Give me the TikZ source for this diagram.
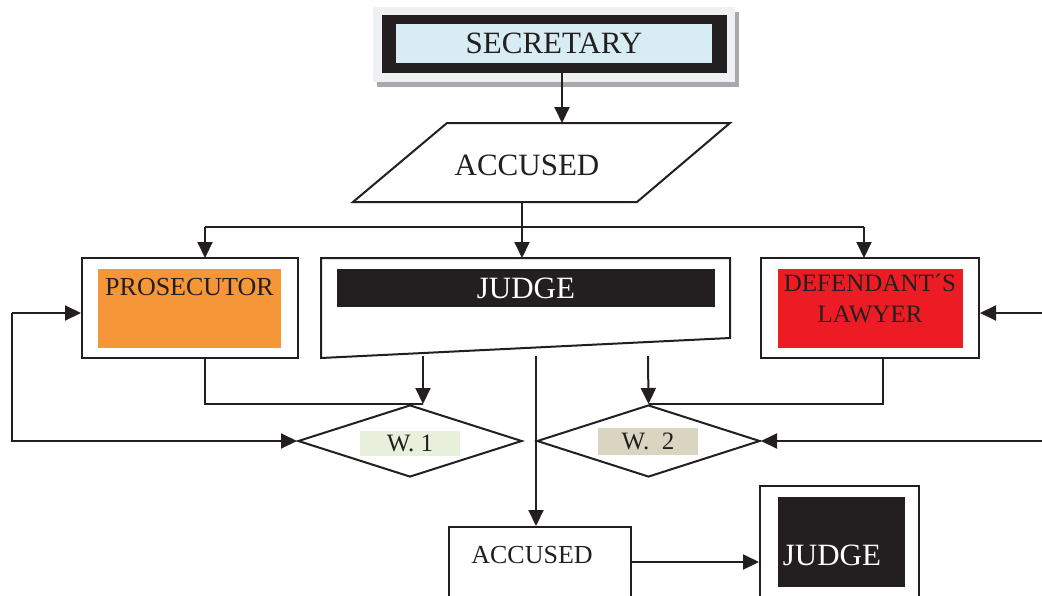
\documentclass[tikz,border=0pt]{standalone}
\usepackage{fontspec}
\setmainfont{Liberation Serif}
\usetikzlibrary{arrows.meta,shapes.geometric,shadows}
\definecolor{ink}{HTML}{231F20}
\definecolor{secgray}{HTML}{EEF0F2}
\definecolor{shadowgray}{HTML}{A7A9AC}
\definecolor{secblue}{HTML}{D7ECF3}
\definecolor{prosorange}{HTML}{F59738}
\definecolor{defred}{HTML}{ED1C24}
\definecolor{wgreen}{HTML}{E8F0DC}
\definecolor{wbeige}{HTML}{D9D5C1}
\begin{document}
\begin{tikzpicture}[x=1pt,y=-1pt,
  line/.style={draw=ink,line width=2pt},
  arrow/.style={line,-{Triangle[length=16pt,width=15pt]}},
  boxline/.style={draw=ink,line width=2pt,fill=white},
  frame/.style={boxline,rectangle,inner sep=0pt},
  patch/.style={rectangle,inner sep=0pt},
  big/.style={font=\fontsize{31}{36}\selectfont,text=ink},
  mid/.style={font=\fontsize{26}{32}\selectfont,text=ink},
  small/.style={font=\fontsize{25}{30}\selectfont,text=ink},
  decision/.style={diamond,draw=ink,line width=2pt,fill=white,inner sep=0pt,
    minimum width=224pt,minimum height=72pt}]
\clip (0,0) rectangle (1042,595);

% --- secretary ---
\node[patch,fill=secgray,minimum width=362pt,minimum height=75pt,
  drop shadow={shadow xshift=4pt,shadow yshift=-5pt,fill=shadowgray,opacity=1}]
  (secbg) at (554,44.5) {};
\node[patch,fill=ink,minimum width=345pt,minimum height=58pt] (secframe) at (554.5,44) {};
\node[patch,fill=secblue,minimum width=316pt,minimum height=39pt,big] (sec) at (554,43.5) {SECRETARY};

% --- accused (input parallelogram) ---
\draw[boxline] (447,123) -- (730,123) -- (637,202) -- (353,202) -- cycle;
\node[big] (acc) at (527,165) {ACCUSED};
\coordinate (acctop) at (562,123);
\coordinate (accbot) at (522,202);
\coordinate (split) at (522,227);

% --- prosecutor ---
\node[frame,minimum width=216pt,minimum height=100pt] (prosbox) at (190,308) {};
\node[patch,fill=prosorange,minimum width=183pt,minimum height=79pt] (prosfill) at (189.5,308.5) {};
\node[mid] (pros) at (189.5,287) {PROSECUTOR};

% --- judge (manual input shape) ---
\draw[boxline] (321,258) -- (730,258) -- (730,338) -- (321,358) -- cycle;
\node[patch,fill=ink,minimum width=378pt,minimum height=38pt,big,text=white] (judge) at (526,288) {JUDGE};
\coordinate (judgetop) at (522,258);
\coordinate (jl) at (423,356);
\coordinate (jm) at (536,356);
\coordinate (jr) at (648,356);

% --- defendant's lawyer ---
\node[frame,minimum width=218pt,minimum height=100pt] (defbox) at (870,308) {};
\node[patch,fill=defred,minimum width=185pt,minimum height=79pt] (deffill) at (870.5,308.5) {};
\node[small,align=center,font=\fontsize{25}{31}\selectfont] (def) at (870,298) {DEFENDANT\char"00B4 S\\LAWYER};

% --- witnesses ---
\node[decision] (w1) at (410,441) {};
\node[decision,minimum width=223pt] (w2) at (648.5,441) {};
\node[patch,fill=wgreen,minimum width=100pt,minimum height=25pt,small] (w1lab) at (410,443) {W. 1};
\node[patch,fill=wbeige,minimum width=100pt,minimum height=27pt,small] (w2lab) at (648,441.5) {W.\ \ 2};

% --- bottom row ---
\node[frame,minimum width=182pt,minimum height=98pt] (acc2box) at (540,576) {};
\node[mid] (acc2) at (532,555) {ACCUSED};
\node[frame,minimum width=159pt,minimum height=134pt] (judge2box) at (839.5,553) {};
\node[patch,fill=ink,minimum width=127pt,minimum height=90pt] (judge2fill) at (841.5,542) {};
\node[big,text=white] (judge2) at (832,555) {JUDGE};

% --- connectors ---
\coordinate (pin) at (205,258);
\coordinate (din) at (864,258);
\coordinate (pout) at (205,358);
\coordinate (dout) at (883,358);
\coordinate (leftrail) at (12,313);
\coordinate (rightin) at (1042,313);
\coordinate (rightw) at (1042,441);

\draw[arrow] (secframe.south -| acctop) -- (acctop);
\draw[arrow] (accbot) -- (judgetop);
\draw[line,line width=1.6pt] (pin |- split) -- (din |- split);
\draw[arrow] (pin |- split) -- (pin);
\draw[arrow] (din |- split) -- (din);

\draw[line] (pout) |- (jl |- w1.north);
\draw[arrow] (jl) -- (jl |- w1.north);
\draw[line] (dout) |- (w2.north);
\draw[arrow] (jr) -- (w2.north);
\draw[arrow] (jm) -- (jm |- acc2box.north);

\draw[arrow] (leftrail) -- (leftrail -| prosbox.west);
\draw[arrow] (leftrail) |- (w1.west);
\draw[arrow] (rightin) -- (rightin -| defbox.east);
\draw[arrow] (rightw) -- (w2.east);
\draw[arrow] (acc2box.east |- acc2box.north) ++(0,36) coordinate (a2out) -- (a2out -| judge2box.west);
\end{tikzpicture}
\end{document}
